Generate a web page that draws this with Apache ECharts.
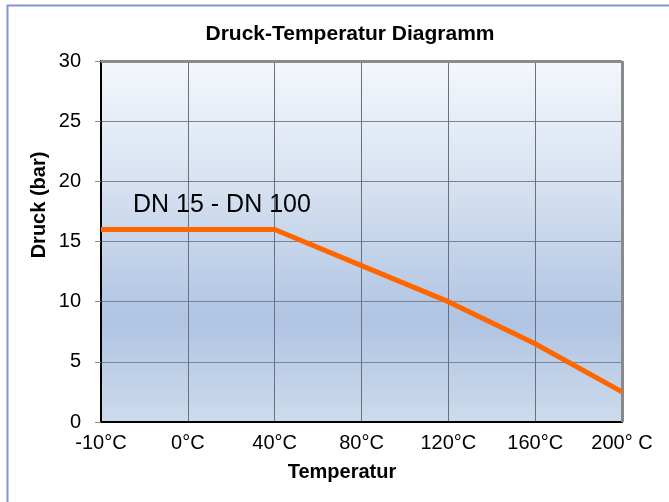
<!DOCTYPE html>
<html>
<head>
<meta charset="utf-8">
<script src="https://cdn.jsdelivr.net/npm/echarts@6/dist/echarts.min.js"></script>
<style>
html,body{margin:0;padding:0;background:#fff;}
#c{width:669px;height:502px;}
</style>
</head>
<body>
<div id="c"></div>
<script>
var categories = ['-10°C', '0°C', '40°C', '80°C', '120°C', '160°C', '200° C'];
var pressure = [16, 16, 16, 13, 10, 6.5, 2.5];
var yTicks = [0, 5, 10, 15, 20, 25, 30];
var titleText = 'Druck-Temperatur Diagramm';
var seriesLabel = 'DN 15 - DN 100';
var xName = 'Temperatur';
var yName = 'Druck (bar)';

var chart = echarts.init(document.getElementById('c'), null, {renderer: 'canvas'});
var sans = '"Liberation Sans", Arial, sans-serif';

chart.setOption({
  backgroundColor: '#ffffff',
  animation: false,
  title: {
    text: titleText,
    left: 345, top: 19, textAlign: 'center',
    textStyle: {fontFamily: sans, fontWeight: 'bold', fontSize: 21, color: '#000'}
  },
  grid: {
    left: 101, right: 47, top: 61, bottom: 80,
    show: true,
    borderWidth: 0,
    backgroundColor: {
      type: 'linear', x: 0, y: 0, x2: 0, y2: 1,
      colorStops: [
        {offset: 0, color: '#f4f7fc'},
        {offset: 0.35, color: '#d6e1f0'},
        {offset: 0.72, color: '#afc4e3'},
        {offset: 1, color: '#cddbec'}
      ]
    }
  },
  graphic: [
    {type: 'rect', left: 5, top: 3, shape: {width: 700, height: 600},
     style: {fill: 'none', stroke: '#8196d2', lineWidth: 2}, silent: true},
    {type: 'text', x: 133, y: 205, silent: true, z: 10,
     style: {text: seriesLabel, font: '25px ' + sans, fill: '#000', verticalAlign: 'middle'}},
    {type: 'text', x: 39, y: 205, rotation: Math.PI / 2, silent: true,
     style: {text: yName, font: 'bold 20px ' + sans, fill: '#000', align: 'center', verticalAlign: 'middle'}},
    {type: 'text', x: 342, y: 472, silent: true,
     style: {text: xName, font: 'bold 20px ' + sans, fill: '#000', align: 'center', verticalAlign: 'middle'}}
  ],
  xAxis: {
    type: 'category',
    data: categories,
    boundaryGap: false,
    axisLine: {show: true, lineStyle: {color: '#000', width: 2}},
    axisTick: {show: false},
    axisLabel: {fontFamily: sans, fontSize: 20, color: '#000', margin: 11, interval: 0},
    splitLine: {show: true, lineStyle: {color: '#6b717c', width: 1}}
  },
  yAxis: {
    type: 'value',
    min: 0, max: 30, interval: 5,
    axisLine: {show: true, lineStyle: {color: '#000', width: 2}},
    axisTick: {show: true, length: 6, inside: false, lineStyle: {color: '#888'}},
    axisLabel: {fontFamily: sans, fontSize: 20, color: '#000', margin: 20,
      formatter: function (v) { return yTicks.indexOf(v) >= 0 ? String(v) : ''; }},
    splitLine: {show: true, lineStyle: {color: '#7d838e', width: 1}}
  },
  series: [{
    type: 'line',
    data: pressure,
    symbol: 'none',
    lineStyle: {color: '#ff6600', width: 5},
    z: 5
  }, {
    type: 'line',
    data: [],
    markLine: {
      silent: true, symbol: 'none', label: {show: false},
      lineStyle: {color: '#8a8a8a', width: 3, type: 'solid'},
      data: [[{xAxis: 6, yAxis: 0}, {xAxis: 6, yAxis: 30}], [{xAxis: 0, yAxis: 30}, {xAxis: 6, yAxis: 30}]]
    }
  }]
});
</script>
</body>
</html>
